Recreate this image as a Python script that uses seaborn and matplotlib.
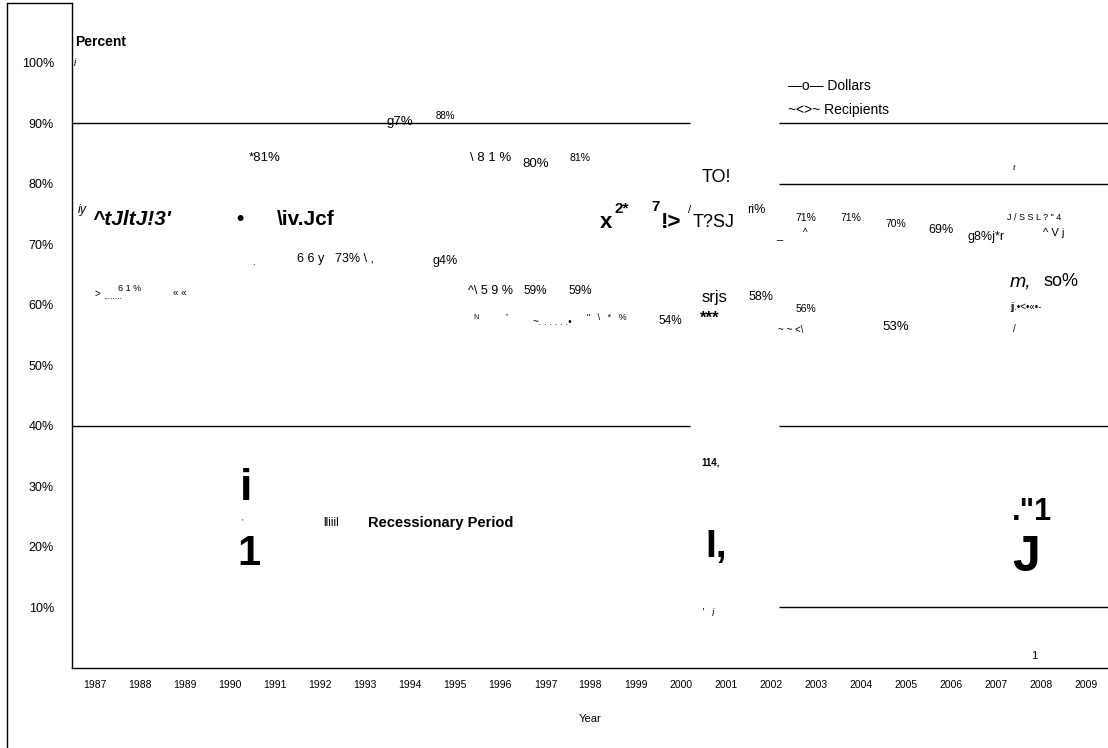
import matplotlib.pyplot as plt
from matplotlib.lines import Line2D
import seaborn as sns

sns.set_style('white')
plt.rcParams['font.family'] = ['Liberation Sans', 'DejaVu Sans']
plt.rcParams['text.color'] = 'black'
plt.rcParams['axes.labelcolor'] = 'black'
plt.rcParams['xtick.color'] = 'black'
plt.rcParams['ytick.color'] = 'black'

years = list(range(1987, 2010))
pct_ticks = [10, 20, 30, 40, 50, 60, 70, 80, 90, 100]
pct_labels = ['10%', '20%', '30%', '40%', '50%', '60%', '70%', '80%', '90%', '100%']

dollar_years = [1991, 1994, 1995, 1996, 1997, 1998, 2003, 2004, 2005, 2006, 2007]
dollar_pct = [81, 87, 88, 81, 80, 81, 71, 71, 70, 69, 68]
dollar_text = ['*81%', 'g7%', '88%', '\\ 8 1 %', '80%', '81%', '71%', '71%', '70%', '69%', 'g8%j*r']
dollar_size = [9.5, 9.5, 7, 9.5, 9.5, 7.5, 7.5, 7.5, 7.5, 9, 9]

recip_years = [1988, 1992, 1995, 1996, 1997, 1998, 2000, 2002, 2003, 2005, 2009]
recip_pct = [61, 66, 64, 59, 59, 59, 54, 58, 56, 53, 60]
recip_text = ['6 1 %', '6 6 y', 'g4%', '^\\ 5 9 %', '59%', '59%', '54%', '58%', '56%', '53%', 'so%']
recip_size = [6.5, 9, 9, 9, 8.5, 8.5, 8.5, 9, 7.5, 9.5, 13]
# label offsets in pixels (scan placed a few of them closer to the point)
recip_dx = [-10, -10, -10, -10, -10, -10, -10, -10, -10, -10, -25]
recip_dy = [10, 10, 20, 20, 20, 20, 20, 20, 20, 20, 23]

# broken rules left in the scan (percent level, start year, end year)
rule_pct = [90, 40, 90, 80, 40, 10]
rule_start = [1986.49, 1986.49, 2002.18, 2002.18, 2002.18, 2002.18]
rule_end = [2000.21, 2000.21, 2009.49, 2009.49, 2009.49, 2009.49]

# leftover scanned fragments: (year, pct, text, size, weight, style)
fragments = [
    (1986.62, 75.7, 'iy', 9, 'normal', 'italic'),
    (1986.93, 74.05, "^tJltJ!3'", 15, 'bold', 'italic'),
    (1990.15, 74.05, '•', 15, 'bold', 'normal'),
    (1991.04, 74.05, '\\iv.Jcf', 15, 'bold', 'normal'),
    (1998.21, 73.55, 'x', 16, 'bold', 'normal'),
    (1998.54, 75.9, '2*', 11, 'bold', 'normal'),
    (1999.36, 76.2, '7', 11, 'bold', 'normal'),
    (1999.56, 73.55, '!>', 16, 'bold', 'normal'),
    (2000.16, 75.7, '/', 8, 'normal', 'normal'),
    (2000.27, 73.55, 'T?SJ', 13, 'normal', 'normal'),
    (2001.47, 75.7, 'ri%', 9, 'normal', 'normal'),
    (2000.47, 81.0, 'TO!', 13, 'normal', 'normal'),
    (2002.12, 71.4, '_', 8, 'normal', 'normal'),
    (2002.72, 71.9, '^', 7, 'normal', 'normal'),
    (2007.24, 74.5, 'J / S S L ? " 4', 6.5, 'normal', 'normal'),
    (2008.04, 71.9, '^ V j', 8, 'normal', 'normal'),
    (2007.38, 82.6, 't', 6, 'normal', 'italic'),
    (1987.0, 61.8, '>', 7, 'normal', 'normal'),
    (1987.18, 61.2, '........', 6, 'normal', 'normal'),
    (1988.73, 62.0, '« «', 7, 'normal', 'normal'),
    (1990.49, 67.1, '.', 7, 'normal', 'normal'),
    (1992.33, 67.6, '73% \\ ,', 9, 'normal', 'normal'),
    (1995.39, 58.0, 'N', 5, 'normal', 'normal'),
    (1996.12, 58.0, '"', 5, 'normal', 'normal'),
    (1996.72, 57.2, '~. . . . . .•', 7, 'normal', 'normal'),
    (1997.92, 57.85, '"   \\   *   %', 6.5, 'normal', 'normal'),
    (2000.47, 61.2, 'srjs', 12, 'normal', 'normal'),
    (2000.43, 57.85, '***', 12, 'bold', 'normal'),
    (2002.16, 55.9, '~ ~ <\\', 7, 'normal', 'normal'),
    (2007.31, 63.8, 'm,', 14, 'normal', 'italic'),
    (2007.31, 59.7, 'jj.•<•«•-', 7, 'normal', 'normal'),
    (2007.38, 56.0, '/', 7, 'normal', 'normal'),
    (1990.22, 29.6, 'i', 32, 'bold', 'normal'),
    (1990.26, 24.1, "'", 6, 'normal', 'normal'),
    (1990.17, 18.8, '1', 30, 'bold', 'normal'),
    (1992.06, 24.0, 'lliiil', 8.5, 'normal', 'normal'),
    (1993.06, 24.0, 'Recessionary Period', 10.5, 'bold', 'normal'),
    (2000.47, 33.9, '114,', 7, 'bold', 'normal'),
    (2000.56, 20.0, 'I,', 28, 'bold', 'normal'),
    (2000.47, 9.1, "'   i", 7, 'normal', 'italic'),
    (2007.36, 25.8, '."1', 22, 'bold', 'normal'),
    (2007.36, 18.2, 'J', 36, 'bold', 'normal'),
    (2007.78, 2.0, '1', 8, 'normal', 'normal'),
    (1986.53, 100.0, 'i', 7, 'normal', 'italic'),
    (2002.38, 96.2, '—o— Dollars', 10, 'normal', 'normal'),
    (2002.38, 92.2, '~<>~ Recipients', 10, 'normal', 'normal'),
    (1986.56, 103.5, 'Percent', 10, 'bold', 'normal'),
]

fig = plt.figure(figsize=(11.08, 7.48), dpi=100)
ax = fig.add_axes([72 / 1108, 80 / 748, 1036 / 1108, 665 / 748])
ax.set_xlim(1986.49, 2009.49)
ax.set_ylim(0, 109.9)

for p, x0, x1 in zip(rule_pct, rule_start, rule_end):
    ax.hlines(p, x0, x1, color='black', lw=1)

for yr, v, s, fs in zip(dollar_years, dollar_pct, dollar_text, dollar_size):
    ax.annotate(s, (yr, v), xytext=(-10, 20), textcoords='offset pixels',
                ha='center', va='center', fontsize=fs)
for yr, v, s, fs, dx, dy in zip(recip_years, recip_pct, recip_text, recip_size, recip_dx, recip_dy):
    ax.annotate(s, (yr, v), xytext=(dx, dy), textcoords='offset pixels',
                ha='center', va='center', fontsize=fs)

for x, y, s, fs, w, st in fragments:
    ax.text(x, y, s, ha='left', va='center', fontsize=fs, fontweight=w, fontstyle=st)

ax.set_xticks(years)
ax.set_xticklabels([str(y) for y in years])
ax.set_yticks(pct_ticks)
ax.set_yticklabels(pct_labels)
ax.set_yticks([50, 60, 100], minor=True)
ax.tick_params(axis='x', length=0, pad=9, labelsize=7.5)
ax.tick_params(axis='y', which='major', length=0, pad=13, labelsize=9)
ax.tick_params(axis='y', which='minor', length=4, width=1, color='black', left=True)
ax.set_xlabel('Year', fontsize=8, labelpad=17)
ax.set_ylabel('')

sns.despine(ax=ax)
for side in ['left', 'bottom']:
    ax.spines[side].set_color('black')
    ax.spines[side].set_linewidth(1)

# page frame from the scanned page
fig.add_artist(Line2D([7 / 1108, 7 / 1108], [0, 1 - 3 / 748], color='black', lw=1,
                      transform=fig.transFigure))
fig.add_artist(Line2D([7 / 1108, 72 / 1108], [1 - 3 / 748, 1 - 3 / 748], color='black', lw=1,
                      transform=fig.transFigure))

fig.savefig('out.png', dpi=100)
